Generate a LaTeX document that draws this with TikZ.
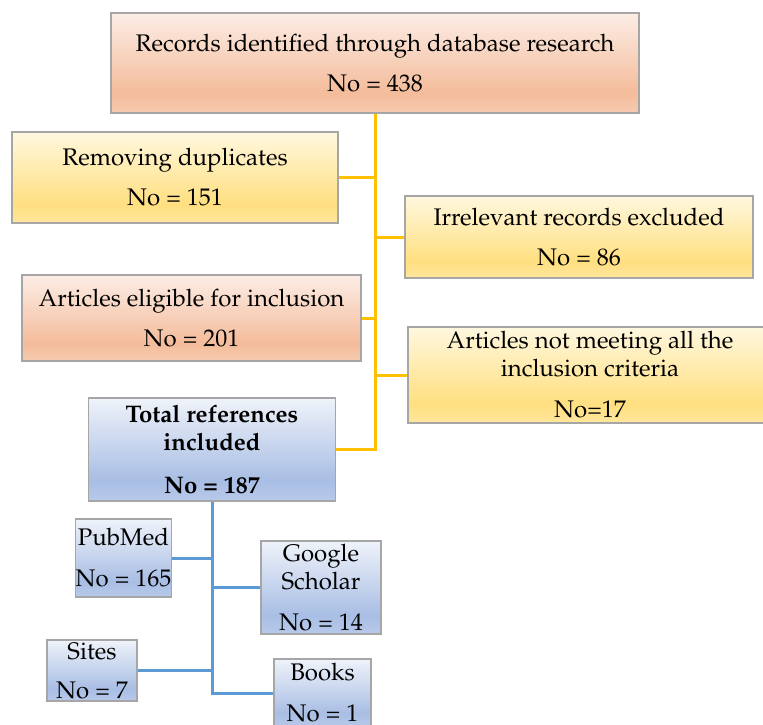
\documentclass[tikz,border=0pt]{standalone}
\usepackage[T1]{fontenc}
\usepackage{mathpazo}
\definecolor{pinktop}{HTML}{FCEDE5}
\definecolor{pinkmid}{HTML}{F4BC9B}
\definecolor{pinkbot}{HTML}{F6CBB1}
\definecolor{yeltop}{HTML}{FFF8DF}
\definecolor{yelmid}{HTML}{FFDF80}
\definecolor{yelbot}{HTML}{FFE69D}
\definecolor{blutop}{HTML}{EFF3FA}
\definecolor{blumid}{HTML}{A9BEE4}
\definecolor{blubot}{HTML}{B8CAEA}
\definecolor{boxline}{HTML}{A6A6A6}
\definecolor{yline}{HTML}{FFC000}
\definecolor{bline}{HTML}{5B9BD5}
\pgfdeclareverticalshading{pinksh}{100bp}{color(0bp)=(pinkbot); color(25bp)=(pinkbot); color(35bp)=(pinkmid); color(75bp)=(pinktop); color(100bp)=(pinktop)}
\pgfdeclareverticalshading{yelsh}{100bp}{color(0bp)=(yelbot); color(25bp)=(yelbot); color(35bp)=(yelmid); color(75bp)=(yeltop); color(100bp)=(yeltop)}
\pgfdeclareverticalshading{blush}{100bp}{color(0bp)=(blubot); color(25bp)=(blubot); color(35bp)=(blumid); color(75bp)=(blutop); color(100bp)=(blutop)}
\tikzset{
  box/.style={draw=boxline, line width=1.2pt, inner sep=0pt, align=center,
    font=\fontsize{24}{28}\selectfont},
  pinkbox/.style={box, shading=pinksh},
  yelbox/.style={box, shading=yelsh},
  blubox/.style={box, shading=blush},
  ylink/.style={draw=yline, line width=3pt},
  blink/.style={draw=bline, line width=3pt},
}
\begin{document}
\begin{tikzpicture}[x=1pt, y=-1pt]
\useasboundingbox (0,0) rectangle (763,724);
\fill[white] (0,0) rectangle (763,724);
% top level
\node[pinkbox, minimum width=528pt, minimum height=100pt] (rec) at (375,63)
  {Records identified through database research\\[12pt]No = 438};
\node[yelbox, minimum width=326pt, minimum height=91pt] (dup) at (175,177.5)
  {Removing duplicates\\[12pt]No = 151};
\node[yelbox, minimum width=348pt, minimum height=82pt] (irr) at (579,237)
  {Irrelevant records excluded\\[12pt]No = 86};
\node[pinkbox, minimum width=339pt, minimum height=86pt] (eli) at (191.5,318)
  {Articles eligible for inclusion\\[12pt]No = 201};
\node[yelbox, minimum width=364pt, minimum height=96pt] (nmc) at (590,375)
  {Articles not meeting all the\\inclusion criteria\\[13pt]No=17};
\node[blubox, minimum width=247pt, minimum height=103pt, font=\fontsize{24}{28}\selectfont\bfseries] (tot) at (212,449.5)
  {Total references\\included\\[15pt]No = 187};
% yellow connectors
\draw[ylink] (rec.south) |- (tot.east);
\draw[ylink] (dup.east) -- (dup.east -| rec.south);
\draw[ylink] (irr.west) -- (irr.west -| rec.south);
\draw[ylink] (eli.east) -- (eli.east -| rec.south);
\draw[ylink] (nmc.west) -- (nmc.west -| rec.south);
% sources
\node[blubox, minimum width=95pt, minimum height=78pt] (pub) at (123.5,558)
  {PubMed\\[13pt]No = 165};
\node[blubox, minimum width=120pt, minimum height=93pt] (goo) at (321,587.5)
  {Google\\Scholar\\[13pt]No = 14};
\node[blubox, minimum width=90pt, minimum height=61pt] (sit) at (92,670.5)
  {Sites\\[11pt]No = 7};
\node[blubox, minimum width=97pt, minimum height=68pt] (boo) at (322.5,693)
  {Books\\[13pt]No = 1};
% blue connectors
\draw[blink] (tot.south) |- (boo.west);
\draw[blink] (pub.east) -- (pub.east -| tot.south);
\draw[blink] (goo.west) -- (goo.west -| tot.south);
\draw[blink] (sit.east) -- (sit.east -| tot.south);
\end{tikzpicture}
\end{document}
